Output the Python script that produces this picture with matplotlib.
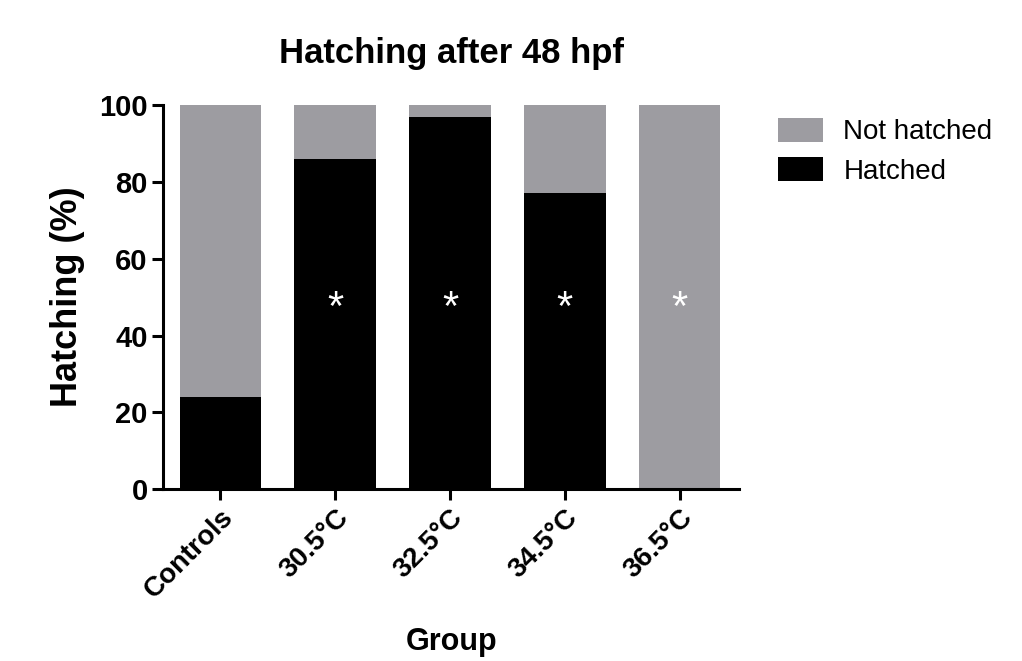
import matplotlib.pyplot as plt
from matplotlib.patches import Patch

plt.rcParams['font.family'] = ['Liberation Sans', 'DejaVu Sans']

# Hatching percentages per group
groups = ['Controls', '30.5°C', '32.5°C', '34.5°C', '36.5°C']
hatched = [24, 86, 97, 77, 0]
not_hatched = [100 - h for h in hatched]
significant = [False, True, True, True, True]

gray = '#9d9ca1'

fig = plt.figure(figsize=(10.22, 6.61), dpi=100)
ax = fig.add_axes([0.1595, 0.260, 0.564, 0.581])

x = range(len(groups))
ax.bar(x, hatched, width=0.71, color='black')
ax.bar(x, not_hatched, width=0.71, bottom=hatched, color=gray)

# Asterisks marking significant groups
for i, sig in enumerate(significant):
    if sig:
        ax.text(i, 47, '*', color='white', ha='center', va='center',
                fontsize=30)

ax.set_xlim(-0.5, 4.52)
ax.set_ylim(0, 100)
ax.set_yticks([0, 20, 40, 60, 80, 100])
ax.set_xticks(list(x))
ax.set_xticklabels(groups, rotation=45, ha='right', rotation_mode='anchor',
                   fontsize=20, fontweight='bold')
for lbl in ax.get_yticklabels():
    lbl.set_fontsize(21)
    lbl.set_fontweight('bold')

for side in ['top', 'right']:
    ax.spines[side].set_visible(False)
for side in ['left', 'bottom']:
    ax.spines[side].set_linewidth(2.2)
ax.tick_params(axis='both', direction='out', length=8, width=2.2, pad=3)

ax.set_title('Hatching after 48 hpf', fontsize=25, fontweight='bold', pad=30)
ax.set_ylabel('Hatching (%)', fontsize=26, fontweight='bold', labelpad=10)
ax.set_xlabel('Group', fontsize=22, fontweight='bold', labelpad=17)

handles = [Patch(facecolor=gray, label='Not hatched'),
           Patch(facecolor='black', label='Hatched')]
fig.legend(handles=handles, loc='upper left', bbox_to_anchor=(0.737, 0.86),
           frameon=False, fontsize=20, handlelength=1.6, handleheight=1.0,
           handletextpad=0.75, labelspacing=0.4)

fig.savefig('out.png', dpi=100)
